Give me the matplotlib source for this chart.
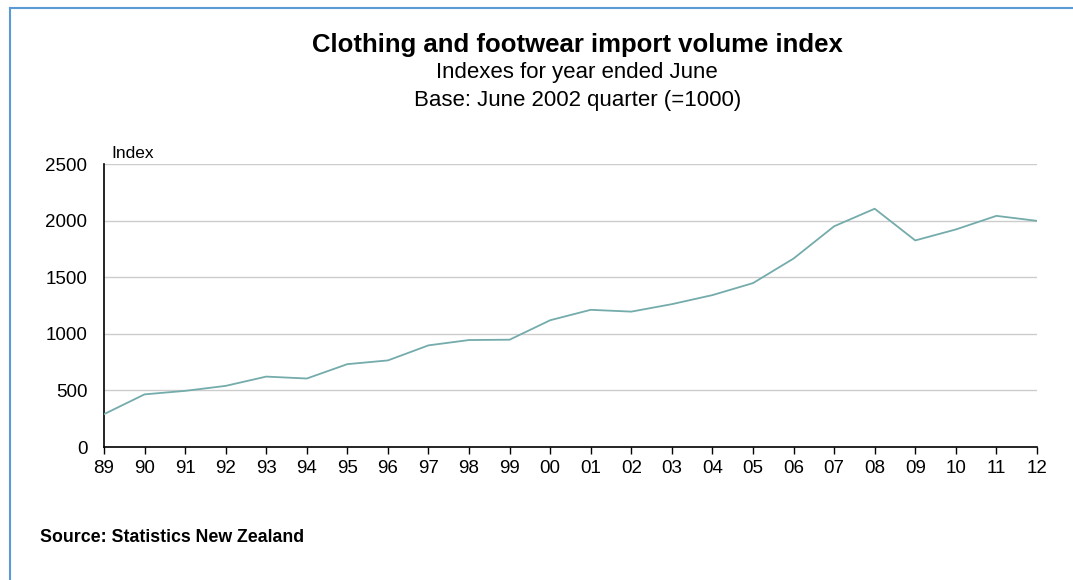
import numpy as np
import matplotlib.pyplot as plt
from matplotlib.lines import Line2D

# year ended June, 1989..2012
years = ["89", "90", "91", "92", "93", "94", "95", "96", "97", "98", "99", "00",
         "01", "02", "03", "04", "05", "06", "07", "08", "09", "10", "11", "12"]
index_values = [290, 465, 496, 540, 622, 605, 732, 765, 898, 945, 948, 1120,
                1212, 1196, 1262, 1342, 1448, 1665, 1950, 2105, 1825, 1922, 2042, 1998]
y_ticks = [0, 500, 1000, 1500, 2000, 2500]


def main():
    plt.rcParams['font.family'] = ['Liberation Sans', 'DejaVu Sans']

    fig = plt.figure(figsize=(10.73, 5.8), dpi=100)
    ax = fig.add_axes([0.0969, 0.2293, 0.8695, 0.4879])

    x = np.arange(len(years))
    ax.plot(x, index_values, color='#74abab', lw=1.3, zorder=3)

    ax.set_xlim(0, len(years) - 1)
    ax.set_ylim(0, 2500)
    ax.set_xticks(x)
    ax.set_xticklabels(years, fontsize=13.5)
    ax.set_yticks(y_ticks)
    ax.set_yticklabels([str(v) for v in y_ticks], fontsize=13.5)
    ax.tick_params(axis='x', direction='out', length=5, width=1, pad=4)
    ax.tick_params(axis='y', length=0, pad=12)

    for v in y_ticks[1:]:
        ax.axhline(v, color='#cccccc', lw=1, zorder=1)

    for s in ['top', 'right']:
        ax.spines[s].set_visible(False)
    for s in ['left', 'bottom']:
        ax.spines[s].set_linewidth(1.2)
        ax.spines[s].set_color('black')

    ax.text(0.008, 1.012, "Index", transform=ax.transAxes, fontsize=12.5,
            ha='left', va='bottom')

    # titles
    fig.text(0.538, 0.922, "Clothing and footwear import volume index",
             fontsize=18.5, fontweight='bold', ha='center', va='center')
    fig.text(0.538, 0.875, "Indexes for year ended June",
             fontsize=16, ha='center', va='center')
    fig.text(0.538, 0.827, "Base: June 2002 quarter (=1000)",
             fontsize=16, ha='center', va='center')

    fig.text(0.037, 0.074, "Source: Statistics New Zealand",
             fontsize=12.8, fontweight='bold', ha='left', va='center')

    # frame edges of the original image
    fig.add_artist(Line2D([0.0093, 1.0], [0.986, 0.986], color='#5b9bd5',
                          lw=1.5, transform=fig.transFigure))
    fig.add_artist(Line2D([0.0093, 0.0093], [0.0, 0.986], color='#5b9bd5',
                          lw=1.5, transform=fig.transFigure))

    fig.savefig("out.png", dpi=100)


if __name__ == "__main__":
    main()
